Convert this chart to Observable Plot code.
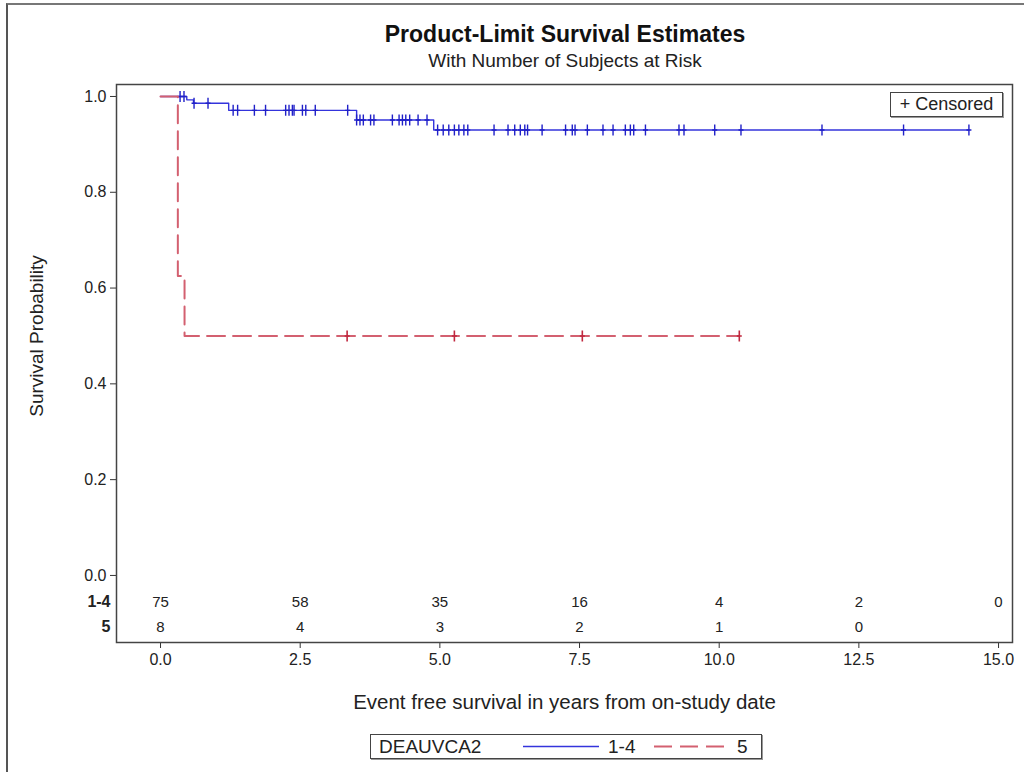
<!DOCTYPE html>
<html>
<head>
<meta charset="utf-8">
<script src="https://cdn.jsdelivr.net/npm/d3@7"></script>
<script src="https://cdn.jsdelivr.net/npm/@observablehq/plot@0.6"></script>
<style>
  html, body { margin: 0; padding: 0; background: #fff; overflow: hidden; }
  body { width: 1024px; height: 772px; position: relative; font-family: "Liberation Sans", Arial, sans-serif; color: #222; }
  .abs { position: absolute; }
  #border { left: 6px; top: 3px; width: 1030px; height: 790px; border-left: 2px solid #555; border-top: 2px solid #777; }
  #title { left: 215px; top: 21px; width: 700px; text-align: center; font-weight: bold; font-size: 23px; color: #111; z-index: 3; }
  #subtitle { left: 215px; top: 50px; width: 700px; text-align: center; font-size: 19px; color: #222; z-index: 3; }
  #chart { left: 0; top: 0; z-index: 1; }
  #censbox { left: 890px; top: 92px; width: 111px; height: 23px; border: 1px solid #444; box-shadow: 1px 1px 0 #999; background: #fff; font-size: 18px; line-height: 23px; text-align: center; z-index: 3; white-space: nowrap; }
  #legend { left: 370px; top: 734px; width: 390px; height: 23px; border: 1px solid #444; box-shadow: 1px 1px 0 #999; background: #fff; font-size: 19px; z-index: 3; }
  #legend span { position: absolute; top: 1px; line-height: 21px; white-space: nowrap; }
  #legend svg { position: absolute; top: 0; }
</style>
</head>
<body>
<div id="border" class="abs"></div>
<div id="title" class="abs"></div>
<div id="subtitle" class="abs"></div>
<div id="chart" class="abs"></div>
<div id="censbox" class="abs"></div>
<div id="legend" class="abs"></div>
<script>
// ---------------- data ----------------
const titleText = "Product-Limit Survival Estimates";
const subtitleText = "With Number of Subjects at Risk";
const xLabel = "Event free survival in years from on-study date";
const yLabel = "Survival Probability";
const legendTitle = "DEAUVCA2";
const groups = ["1-4", "5"];

// group 1-4: Kaplan-Meier step points
const blueTimes = [0, 0.47, 0.59, 1.22, 3.51, 4.89, 14.47];
const blueSurv  = [1.0, 0.993, 0.986, 0.971, 0.951, 0.930, 0.930];
const blueCensor = [0.35, 0.42, 0.60, 0.85, 1.30, 1.38, 1.68, 1.88, 2.24, 2.30, 2.36, 2.39, 2.54, 2.60, 2.77,
  3.35, 3.51, 3.57, 3.63, 3.76, 3.82, 4.15, 4.27, 4.33, 4.39, 4.46, 4.61, 4.77,
  4.96, 5.06, 5.16, 5.26, 5.34, 5.43, 5.50, 5.97, 6.22, 6.34, 6.44, 6.52, 6.57, 6.83,
  7.25, 7.37, 7.42, 7.64, 7.92, 8.10, 8.32, 8.41, 8.47, 8.68, 9.28, 9.37, 9.92, 10.39,
  11.84, 13.30, 14.47];

// group 5
const redTimes = [0, 0.31, 0.43, 10.36];
const redSurv  = [1.0, 0.625, 0.5, 0.5];
const redCensor = [3.34, 5.26, 7.55, 10.36];

// number at risk
const riskTimes = [0, 2.5, 5, 7.5, 10, 12.5, 15];
const riskBlue = [75, 58, 35, 16, 4, 2, 0];
const riskRed  = [8, 4, 3, 2, 1, 0];

const xTicks = [0, 2.5, 5, 7.5, 10, 12.5, 15];
const yTicks = [0, 0.2, 0.4, 0.6, 0.8, 1.0];

// ---------------- build tables ----------------
const blueColor = "#3434dc";
const blueDark = "#2020c8";
const redColor = "#d36070";
const redDark = "#c0283f";

function survAt(times, surv, t) {
  let v = surv[0];
  for (let i = 0; i < times.length; i++) if (times[i] <= t) v = surv[i];
  return v;
}
const blueSteps = blueTimes.map((t, i) => ({t, s: blueSurv[i]}));
const redSteps = redTimes.map((t, i) => ({t, s: redSurv[i]}));
const blueCens = blueCensor.map(t => ({t, s: survAt(blueTimes, blueSurv, t)}));
const redCens = redCensor.map(t => ({t, s: survAt(redTimes, redSurv, t)}));
const riskB = riskBlue.map((n, i) => ({t: riskTimes[i], n}));
const riskR = riskRed.map((n, i) => ({t: riskTimes[i], n}));

const plusSymbol = {
  draw(ctx) {
    ctx.moveTo(0, -5.5); ctx.lineTo(0, 5.5);
    ctx.moveTo(-2.5, 0); ctx.lineTo(2.5, 0);
  }
};

const chart = Plot.plot({
  width: 1024,
  height: 772,
  marginLeft: 116,
  marginRight: 12,
  marginTop: 84,
  marginBottom: 130,
  x: {domain: [-0.788, 15.25]},
  y: {domain: [-0.14, 1.025]},
  style: {fontFamily: "'Liberation Sans', Arial, sans-serif", fontSize: "16px", color: "#222", background: "transparent", overflow: "visible"},
  marks: [
    Plot.axisX({ticks: xTicks, tickFormat: d => d.toFixed(1), tickSize: 6, tickPadding: 5, label: null, fontSize: 16, stroke: "#333"}),
    Plot.axisY({ticks: yTicks, tickFormat: d => d.toFixed(1), tickSize: 6, tickPadding: 4, label: null, fontSize: 16, stroke: "#333"}),
    Plot.text([yLabel], {y: 0.5, frameAnchor: "left", textAnchor: "middle", dx: -80, rotate: -90, fontSize: 19, fill: "#222"}),
    Plot.text([xLabel], {frameAnchor: "bottom", dy: 66, fontSize: 20.5, fill: "#222"}),
    // at-risk table
    Plot.text(riskB, {x: "t", text: "n", frameAnchor: "bottom", dy: -36, fontSize: 15, fill: "#222"}),
    Plot.text(riskR, {x: "t", text: "n", frameAnchor: "bottom", dy: -11, fontSize: 15, fill: "#222"}),
    Plot.text([groups[0]], {frameAnchor: "bottom-left", dx: -6, dy: -36, textAnchor: "end", fontSize: 16, fontWeight: "bold", fill: "#222"}),
    Plot.text([groups[1]], {frameAnchor: "bottom-left", dx: -6, dy: -11, textAnchor: "end", fontSize: 16, fontWeight: "bold", fill: "#222"}),
    // curves
    Plot.line(blueSteps, {x: "t", y: "s", curve: "step-after", stroke: blueColor, strokeWidth: 1.4}),
    Plot.dot(blueCens, {x: "t", y: "s", symbol: plusSymbol, r: 4, stroke: blueDark, strokeWidth: 1.4, fill: "none"}),
    Plot.line(redSteps, {x: "t", y: "s", curve: "step-after", stroke: redColor, strokeWidth: 2, strokeDasharray: "18,8"}),
    Plot.dot(redCens, {x: "t", y: "s", symbol: plusSymbol, r: 4, stroke: redDark, strokeWidth: 1.6, fill: "none"}),
    Plot.frame({stroke: "#444", strokeWidth: 1.5})
  ]
});
document.getElementById("chart").appendChild(chart);

document.getElementById("title").textContent = titleText;
document.getElementById("subtitle").textContent = subtitleText;
document.getElementById("censbox").textContent = "+ Censored";

// bottom legend
const leg = document.getElementById("legend");
function addSpan(text, left) {
  const s = document.createElement("span");
  s.textContent = text; s.style.left = left + "px"; leg.appendChild(s);
}
function addLine(left, width, color, dash, sw) {
  const ns = "http://www.w3.org/2000/svg";
  const svg = document.createElementNS(ns, "svg");
  svg.setAttribute("width", width); svg.setAttribute("height", 23);
  svg.style.left = left + "px";
  const l = document.createElementNS(ns, "line");
  l.setAttribute("x1", 0); l.setAttribute("x2", width);
  l.setAttribute("y1", 11.5); l.setAttribute("y2", 11.5);
  l.setAttribute("stroke", color); l.setAttribute("stroke-width", sw);
  if (dash) l.setAttribute("stroke-dasharray", dash);
  svg.appendChild(l); leg.appendChild(svg);
}
addSpan(legendTitle, 8);
addLine(152, 76, blueColor, null, 1.4);
addSpan(groups[0], 237);
addLine(283, 74, redColor, "18,8", 2);
addSpan(groups[1], 366);
</script>
</body>
</html>
